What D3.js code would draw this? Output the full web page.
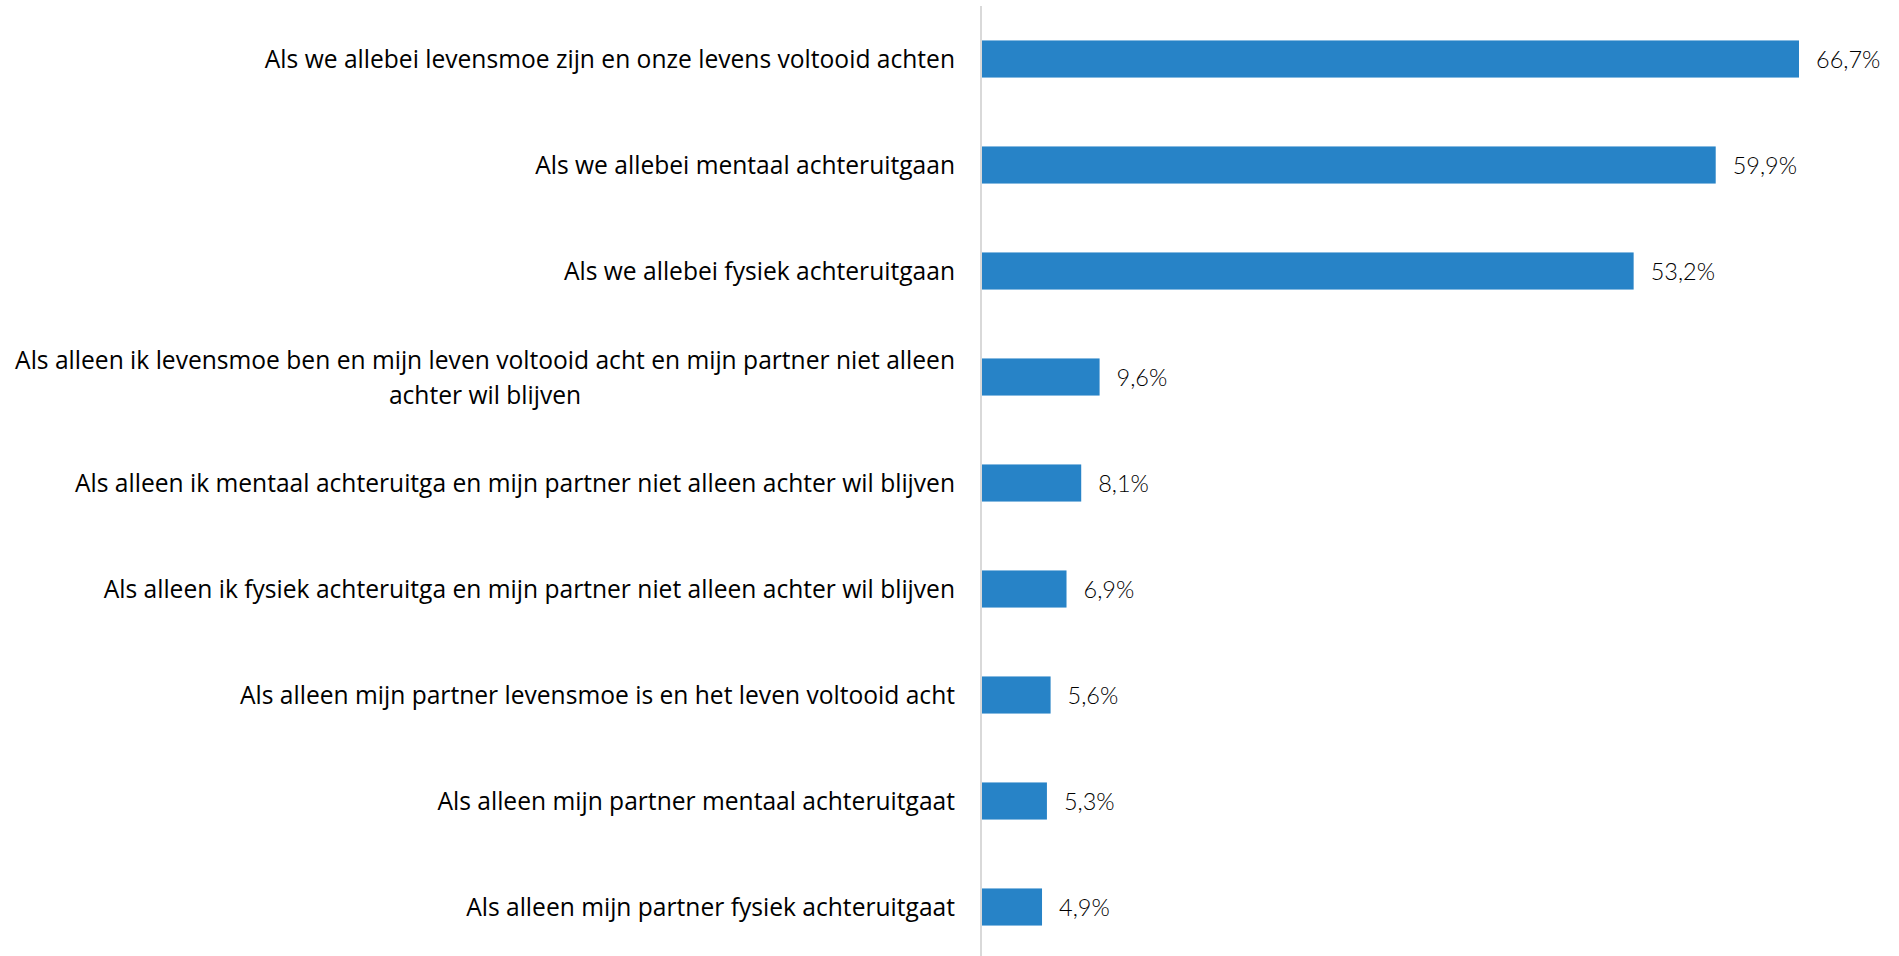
<!DOCTYPE html>
<html>
<head>
<meta charset="utf-8">
<script src="https://cdn.jsdelivr.net/npm/d3@7"></script>
<style>
  html, body { margin: 0; padding: 0; background: #fff; }
  svg { display: block; }
</style>
</head>
<body>
<svg id="chart" width="1899" height="956"></svg>
<script>
// categories (lines split where the original wraps)
var categories = [
    ["Als we allebei levensmoe zijn en onze levens voltooid achten"],
    ["Als we allebei mentaal achteruitgaan"],
    ["Als we allebei fysiek achteruitgaan"],
    ["Als alleen ik levensmoe ben en mijn leven voltooid acht en mijn partner niet alleen", "achter wil blijven"],
    ["Als alleen ik mentaal achteruitga en mijn partner niet alleen achter wil blijven"],
    ["Als alleen ik fysiek achteruitga en mijn partner niet alleen achter wil blijven"],
    ["Als alleen mijn partner levensmoe is en het leven voltooid acht"],
    ["Als alleen mijn partner mentaal achteruitgaat"],
    ["Als alleen mijn partner fysiek achteruitgaat"]
];
var values = [66.7, 59.9, 53.2, 9.6, 8.1, 6.9, 5.6, 5.3, 4.9];
var valueLabels = ["66,7%", "59,9%", "53,2%", "9,6%", "8,1%", "6,9%", "5,6%", "5,3%", "4,9%"];

var svg = d3.select("#chart");
var axisX = 982;
var labelRight = 955;

var x = d3.scaleLinear().domain([0, 66.7]).range([axisX, 1799]);
var y = d3.scaleBand()
    .domain(d3.range(categories.length))
    .range([6, 960])
    .paddingInner(0.65)
    .paddingOuter(0.325);

// bars
svg.selectAll("rect.bar")
    .data(values)
    .enter().append("rect")
    .attr("class", "bar")
    .attr("x", x(0))
    .attr("y", function (d, i) { return y(i); })
    .attr("width", function (d) { return x(d) - x(0); })
    .attr("height", y.bandwidth())
    .attr("fill", "#2783c7");

// vertical axis line
svg.append("line")
    .attr("x1", axisX - 1).attr("x2", axisX - 1)
    .attr("y1", 6).attr("y2", 956)
    .attr("stroke", "#d9d9d9")
    .attr("stroke-width", 2);

// value labels
svg.selectAll("text.val")
    .data(values)
    .enter().append("text")
    .attr("class", "val")
    .attr("x", function (d) { return x(d) + 17; })
    .attr("y", function (d, i) { return y(i) + y.bandwidth() / 2 + 9; })
    .attr("font-family", "Lato, sans-serif")
    .attr("font-weight", 300)
    .attr("font-size", 23.5)
    .attr("fill", "#000")
    .text(function (d, i) { return valueLabels[i]; });

// category labels
var lineH = 35;
var labels = svg.selectAll("text.cat")
    .data(categories)
    .enter().append("text")
    .attr("class", "cat")
    .attr("font-family", "'Open Sans', sans-serif")
    .attr("font-size", 24.6)
    .attr("fill", "#000");

labels.each(function (d, i) {
    var t = d3.select(this);
    var mid = y(i) + y.bandwidth() / 2 + 9;
    var y0 = mid - (d.length - 1) * lineH / 2;
    if (d.length === 1) {
        t.attr("text-anchor", "end")
            .append("tspan").attr("x", labelRight).attr("y", y0).text(d[0]);
        return;
    }
    // wrapped label: lines centred under the widest line, block right aligned
    t.attr("text-anchor", "middle");
    var spans = d.map(function (line, j) {
        return t.append("tspan").attr("y", y0 + j * lineH).text(line);
    });
    var w = d3.max(spans, function (s) { return s.node().getComputedTextLength(); });
    spans.forEach(function (s) { s.attr("x", labelRight - w / 2); });
});
</script>
</body>
</html>
